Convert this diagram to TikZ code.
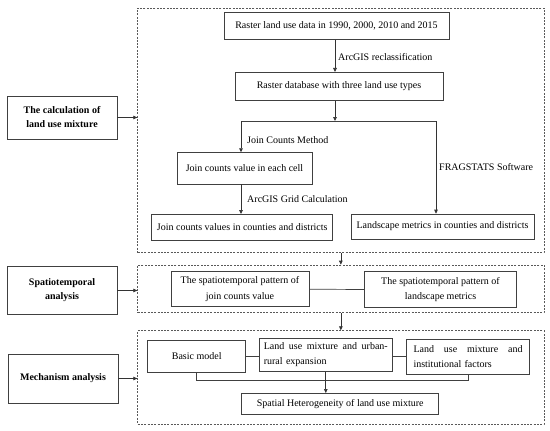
\documentclass[tikz,border=0pt]{standalone}
\usepackage{fontspec}
\setmainfont{Liberation Serif}
\usetikzlibrary{arrows.meta}
\begin{document}
\begin{tikzpicture}[x=1pt,y=-1pt,
  box/.style={draw=black!75, line width=0.7pt, inner sep=0pt, align=center, font=\fontsize{10}{15.5}\selectfont},
  bbox/.style={box, font=\fontsize{10}{14}\selectfont\bfseries},
  dbox/.style={draw=black!65, line width=0.7pt, dash pattern=on 2pt off 1.3pt, inner sep=0pt},
  arr/.style={draw=black!80, line width=0.7pt, -{Triangle[length=4pt,width=3.6pt]}},
  ln/.style={draw=black!75, line width=0.7pt},
  lbl/.style={inner sep=0pt, anchor=west, font=\fontsize{10}{12}\selectfont}]
\useasboundingbox (0,0) rectangle (550,431);
\fill[white] (0,0) rectangle (550,431);

% dashed frames
\node[dbox, minimum width=406.3pt, minimum height=244.5pt] (d1) at (340.85,130.25) {};
\node[dbox, minimum width=406.3pt, minimum height=47.7pt] (d2) at (340.85,288.85) {};
\node[dbox, minimum width=406.3pt, minimum height=93.6pt] (d3) at (340.85,377.5) {};

% left stage boxes
\node[bbox, minimum width=110pt, minimum height=43pt] (calc) at (62,117.5) {The calculation of\\land use mixture};
\node[bbox, minimum width=110pt, minimum height=48pt] (spt) at (62,290.5) {Spatiotemporal\\analysis};
\node[bbox, minimum width=110pt, minimum height=49pt] (mech) at (63,378.5) {Mechanism analysis};

% first stage
\node[box, minimum width=225pt, minimum height=27pt] (r1) at (336.5,25.8) {Raster land use data in 1990, 2000, 2010 and 2015};
\node[box, minimum width=208pt, minimum height=28.4pt] (r2) at (339,86.5) {Raster database with three land use types};
\node[box, minimum width=135pt, minimum height=31.3pt] (jc1) at (244.5,168.3) {Join counts value in each cell};
\node[box, minimum width=181pt, minimum height=25.7pt] (jc2) at (242.2,227.2) {Join counts values in counties and districts};
\node[box, minimum width=183pt, minimum height=25pt] (lm) at (442.5,226.5) {Landscape metrics in counties and districts};

\coordinate (br) at (335,121);
\coordinate (brL) at (241,121);
\coordinate (brR) at (436,121);

\draw[arr] (r1.south -| br) -- (br |- r2.north);
\draw[arr] (r2.south -| br) -- (br);
\draw[ln] (brL) -- (brR);
\draw[arr] (brL) -- (brL |- jc1.north);
\draw[arr] (brR) -- (brR |- lm.north);
\draw[arr] (jc1.south -| brL) -- (brL |- jc2.north);

\node[lbl] (l1) at (338,57) {ArcGIS reclassification};
\node[lbl] (l2) at (247,140) {Join Counts Method};
\node[lbl] (l3) at (247,199) {ArcGIS Grid Calculation};
\node[lbl] (l4) at (439,166.7) {FRAGSTATS Software};

% second stage
\node[box, minimum width=138pt, minimum height=35pt] (s1) at (240,289.2) {The spatiotemporal pattern of\\join counts value};
\node[box, minimum width=152.4pt, minimum height=35.6pt] (s2) at (440.5,289.5) {The spatiotemporal pattern of\\landscape metrics};
\draw[ln] (s1.east) -- (s2.west);

% third stage
\node[box, minimum width=133pt, minimum height=33.7pt, text width=124pt, align=left] (ur) at (325.8,354.8)
  {\makebox[124pt][l]{Land\hfill use\hfill mixture\hfill and\hfill urban-}\\rural expansion};
\node[box, minimum width=98pt, minimum height=32.7pt] (bm) at (196.7,356.3) {Basic model};
\node[box, minimum width=122.6pt, minimum height=35pt, text width=109pt, align=left] (inst) at (468,356.5)
  {\makebox[109pt][l]{Land\hfill use\hfill mixture\hfill and}\\institutional factors};
\node[box, minimum width=197pt, minimum height=20.7pt] (sh) at (340.2,403.7) {Spatial Heterogeneity of land use mixture};

\draw[ln] (bm.east) -- (bm.east -| ur.west);
\draw[ln] (inst.west) -- (inst.west -| ur.east);
\coordinate (bk) at (0,380.7);
\draw[ln] (bm.south) -- (bm.south |- bk) -- (inst.south |- bk) -- (inst.south);
\draw[arr] (ur.south) -- (ur.south |- sh.north);

% stage links
\draw[arr] (d1.south) -- (d2.north);
\draw[arr] (d2.south) -- (d3.north);
\draw[arr] (calc.east) -- (calc.east -| d1.west);
\draw[arr] (spt.east) -- (spt.east -| d2.west);
\draw[arr] (mech.east) -- (mech.east -| d3.west);
\end{tikzpicture}
\end{document}
